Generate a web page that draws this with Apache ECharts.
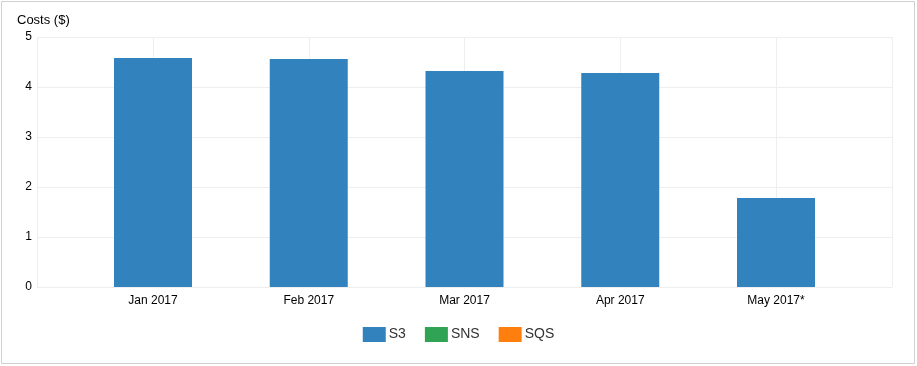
<!DOCTYPE html>
<html>
<head>
<meta charset="utf-8">
<script src="https://cdn.jsdelivr.net/npm/echarts@6/dist/echarts.min.js"></script>
<style>
html,body{margin:0;padding:0;background:#fff;}
#c{position:absolute;left:0;top:0;width:917px;height:366px;}
</style>
</head>
<body>
<div id="c"></div>
<script>
const categories = ['Jan 2017', 'Feb 2017', 'Mar 2017', 'Apr 2017', 'May 2017*'];
const s3Values = [4.58, 4.56, 4.32, 4.28, 1.78];
const snsValues = [];
const sqsValues = [];
const yTicks = [0, 1, 2, 3, 4, 5];

const chart = echarts.init(document.getElementById('c'), null, {renderer: 'canvas'});
const gridColor = '#eeeeee';
const font = 'Liberation Sans, Arial, sans-serif';

chart.setOption({
  animation: false,
  textStyle: {fontFamily: font},
  graphic: [{
    type: 'rect',
    shape: {x: 1.5, y: 1.5, width: 913, height: 362},
    style: {fill: 'none', stroke: '#d0d0d0', lineWidth: 1},
    silent: true
  }],
  title: {
    text: 'Costs ($)', left: 12, top: 9,
    textStyle: {fontSize: 13, fontWeight: 'normal', color: '#000', fontFamily: font}
  },
  legend: {
    left: 'center', top: 322, icon: 'rect', itemWidth: 23, itemHeight: 15, itemGap: 19,
    textStyle: {fontSize: 14, color: '#333', fontFamily: font, padding: [0, 0, 0, -2]},
    data: ['S3', 'SNS', 'SQS']
  },
  grid: [
    {left: 37, right: 25, top: 37, bottom: 79},
    {left: 153, right: 141, top: 37, bottom: 79}
  ],
  xAxis: [
    {gridIndex: 0, type: 'value', min: 0, max: 1, interval: 1,
     axisLabel: {show: false}, axisLine: {show: false}, axisTick: {show: false},
     splitLine: {show: true, lineStyle: {color: gridColor}}},
    {gridIndex: 1, type: 'category', boundaryGap: false, data: categories,
     axisLine: {show: false}, axisTick: {show: false},
     axisLabel: {fontSize: 12, color: '#000', margin: 8, fontFamily: font},
     splitLine: {show: true, lineStyle: {color: gridColor}}}
  ],
  yAxis: [
    {gridIndex: 0, type: 'value', min: yTicks[0], max: yTicks[yTicks.length - 1], interval: 1,
     axisLine: {show: false}, axisTick: {show: false},
     axisLabel: {fontSize: 12, color: '#000', margin: 5, fontFamily: font},
     splitLine: {show: true, lineStyle: {color: gridColor}}},
    {gridIndex: 1, type: 'value', min: yTicks[0], max: yTicks[yTicks.length - 1], interval: 1,
     show: false, splitLine: {show: false}}
  ],
  series: [
    {name: 'S3', type: 'bar', xAxisIndex: 1, yAxisIndex: 1, data: s3Values,
     barWidth: 78, barGap: '-100%', clip: false, itemStyle: {color: '#3182bd'}},
    {name: 'SNS', type: 'bar', xAxisIndex: 1, yAxisIndex: 1, data: snsValues,
     barWidth: 78, barGap: '-100%', clip: false, itemStyle: {color: '#31a354'}},
    {name: 'SQS', type: 'bar', xAxisIndex: 1, yAxisIndex: 1, data: sqsValues,
     barWidth: 78, barGap: '-100%', clip: false, itemStyle: {color: '#ff7f0e'}}
  ]
});
</script>
</body>
</html>
